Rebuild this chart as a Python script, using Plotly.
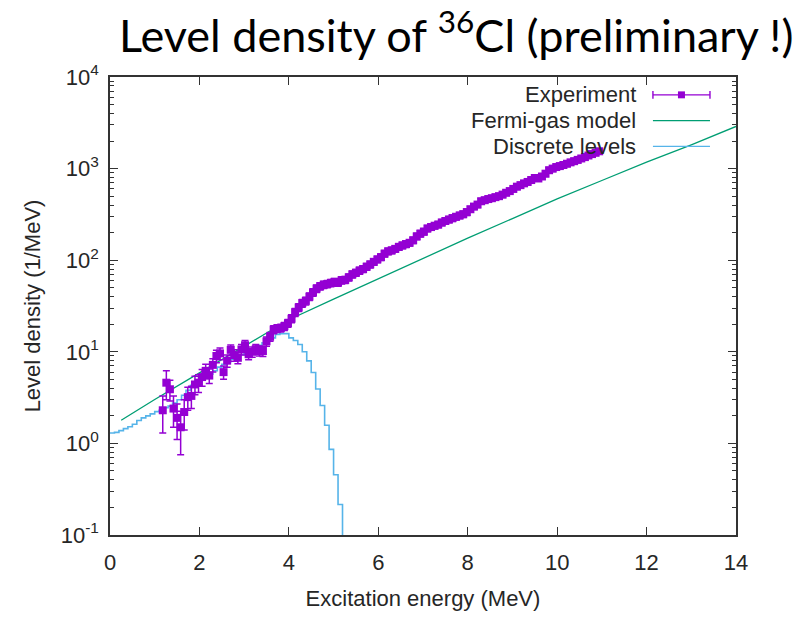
import plotly.graph_objects as go

# ---------------- data ----------------
exp_E = [1.18,1.26,1.34,1.42,1.50,1.58,1.66,1.74,1.82,1.90,
         1.98,2.06,2.14,2.22,2.30,2.38,2.46,2.54,2.62,2.70,
         2.78,2.86,2.94,3.02,3.10,3.18,3.26,3.34,3.42,3.50,
         3.58,3.66,3.74,3.82,3.90,3.98,
         4.06,4.14,4.22,4.30,4.38,4.46,4.54,4.62,4.70,4.78,
         4.86,4.94,5.02,5.10,5.18,5.26,5.34,5.42,5.50,5.58,
         5.66,5.74,5.82,5.90,5.98,
         6.06,6.14,6.22,6.30,6.38,6.46,6.54,6.62,6.70,6.78,
         6.86,6.94,7.02,7.10,7.18,7.26,7.34,7.42,7.50,7.58,
         7.66,7.74,7.82,7.90,7.98,
         8.06,8.14,8.22,8.30,8.38,8.46,8.54,8.62,8.70,8.78,
         8.86,8.94,9.02,9.10,9.18,9.26,9.34,9.42,9.50,9.58,
         9.66,9.74,9.82,9.90,9.98,
         10.06,10.14,10.22,10.30,10.38,10.46,10.54,10.62,10.70,10.78,
         10.86,10.94]
exp_rho = [2.3,4.6,3.9,2.4,1.9,1.5,2.2,3.2,3.3,4.4,
           4.6,5.3,6.2,5.5,7.2,9.0,9.6,6.0,8.0,10.5,
           9.2,8.6,10.6,11.8,9.4,10.0,10.7,10.3,10.2,13.0,
           14.6,17.5,18.0,18.2,19.0,20.5,
           23.0,27.0,30.5,34.0,36.0,40.0,44.5,49.0,52.0,54.0,
           55.0,56.5,58.0,57.0,60.5,61.0,65.0,70.0,73.0,77.0,
           80.0,85.0,90.0,96.0,102,
           108,118,125,128,133,140,145,150,155,165,
           182,195,205,222,230,238,245,258,268,278,
           288,298,308,318,335,
           360,385,405,440,452,465,475,488,500,520,
           545,568,600,635,660,690,715,750,790,780,
           820,880,960,1000,1040,
           1065,1095,1130,1170,1205,1245,1290,1335,1390,1440,
           1490,1545]
exp_err = [1.0,1.6,1.0,0.9,0.8,0.75,0.8,0.9,0.9,1.0,
           1.0,1.1,1.1,1.0,1.2,1.4,1.4,1.0,1.2,1.4,
           1.3,1.2,1.4,1.5,1.2,1.3,1.3,1.3,1.3,1.5,
           1.6,1.8,1.8,1.8,1.9,2.0,
           2.3,2.7,3.0,3.3,3.5,3.8,4.2,4.6,4.8,5.0,
           5.0,5.1,5.2,5.1,5.4,5.4,5.7,6.1,6.3,6.6,
           6.8,7.2,7.6,8.0,8.5,
           8.8,9.6,10.1,10.3,10.7,11.2,11.6,12.0,12.4,13.2,
           14.5,15.5,16.3,17.6,18.2,18.8,19.4,20.4,21.2,22.0,
           22.8,23.6,24.4,25.2,26.5,
           25,27,28.5,31,31.5,32.5,33,34,35,36,
           38,39.5,42,44,46,48,50,52.5,55,54.5,
           57,61,66,69,72,
           73,75,77,80,82,85,88,91,94,97,
           100,104]

fg_E = [0.25, 1, 2, 3, 4, 5, 6, 7, 8, 9, 10, 11, 12, 13, 14]
fg_rho = [1.79, 3.02, 5.89, 11.5, 22.4, 37.6, 63.1, 105, 174, 285, 468, 741, 1175, 1820, 2884]

disc_E = [0.0,0.1,0.2,0.3,0.4,0.5,0.6,0.7,0.8,0.9,
          1.0,1.1,1.2,1.3,1.4,1.5,1.6,1.7,1.8,1.9,
          2.0,2.1,2.2,2.3,2.4,2.5,2.6,2.7,2.8,2.9,
          3.0,3.1,3.2,3.3,3.4,3.5,3.6,3.7,3.8,3.9,
          4.0,4.1,4.2,4.3,4.4,4.5,4.6,4.7,4.8,4.9,
          5.0,5.1,5.2]
disc_rho = [1.30,1.32,1.38,1.45,1.52,1.62,1.78,1.90,2.00,2.10,
            2.22,2.30,2.45,2.55,2.75,3.0,3.35,3.8,4.3,4.6,
            5.0,5.3,5.7,6.2,6.8,7.3,7.8,8.3,8.9,9.3,
            10.0,10.6,11.2,11.8,12.5,13.3,14.2,15.5,15.8,15.8,
            14.2,13.3,12.0,10.0,7.96,5.95,3.93,2.59,1.58,0.86,
            0.454,0.215,0.001]

y_tickvals = [0.1, 1, 10, 100, 1000, 10000]
y_ticktext = ["10<sup>-1</sup>", "10<sup>0</sup>", "10<sup>1</sup>",
              "10<sup>2</sup>", "10<sup>3</sup>", "10<sup>4</sup>"]
legend_labels = ["Experiment", "Fermi-gas model", "Discrete levels"]

C_EXP = "#9400D3"
C_FG = "#009E73"
C_DL = "#56B4E9"
AX = "#333333"
TXT = "#262626"
FONT = "Arial"
FS = 22

fig = go.Figure()
fig.add_trace(go.Scatter(x=disc_E, y=disc_rho, mode="lines", line_shape="hv",
                         line=dict(color=C_DL, width=1.6), name=legend_labels[2]))
fig.add_trace(go.Scatter(x=fg_E, y=fg_rho, mode="lines",
                         line=dict(color=C_FG, width=1.3), name=legend_labels[1]))
fig.add_trace(go.Scatter(x=exp_E, y=exp_rho, mode="markers",
                         marker=dict(symbol="square", size=8, color=C_EXP),
                         error_y=dict(type="data", array=exp_err, color=C_EXP,
                                      thickness=1.5, width=3.5),
                         name=legend_labels[0]))

minor_vals = [m * 10.0 ** k for k in range(-1, 4) for m in range(2, 10)]

fig.update_layout(
    width=805, height=619,
    margin=dict(l=110, r=69, t=77, b=80),
    paper_bgcolor="white", plot_bgcolor="white",
    showlegend=False,
    font=dict(family=FONT, size=FS, color=TXT),
    xaxis=dict(range=[0, 14], dtick=2, tick0=0, ticks="inside", ticklen=8,
               tickwidth=1.2, tickcolor=AX, showline=True, linecolor=AX,
               linewidth=1.5, mirror="ticks", showgrid=False, zeroline=False,
               ticklabelstandoff=7,
               tickfont=dict(family=FONT, size=FS, color=TXT),
               title=dict(text="Excitation energy (MeV)", standoff=16,
                          font=dict(family=FONT, size=FS, color=TXT))),
    yaxis=dict(type="log", range=[-1, 4], tickmode="array",
               tickvals=y_tickvals, ticktext=y_ticktext,
               ticks="inside", ticklen=8, tickwidth=1.2, tickcolor=AX,
               minor=dict(tickmode="array", tickvals=minor_vals, ticks="inside",
                          ticklen=4, tickcolor=AX, showgrid=False),
               showline=True, linecolor=AX, linewidth=1.5, mirror="ticks",
               showgrid=False, zeroline=False, ticklabelstandoff=5,
               tickfont=dict(family=FONT, size=FS, color=TXT),
               title=dict(text="Level density (1/MeV)", standoff=14,
                          font=dict(family=FONT, size=FS, color=TXT))),
)

# title
fig.add_annotation(text="Level density of <sup>36</sup>Cl (preliminary !)",
                   xref="paper", yref="paper", x=1.094, y=1.099,
                   xanchor="right", yanchor="middle", showarrow=False,
                   font=dict(family="Lato", size=45, color="black"))

# legend (gnuplot style: text right-aligned, sample to the right)
W, H = 625.5, 462.0
def px(xp):
    return (xp - 110.5) / W
def py(yp):
    return (539.0 - yp) / H

rows = [95, 121, 147]
colors = [C_EXP, C_FG, C_DL]
for lab, ry, col in zip(legend_labels, rows, colors):
    fig.add_annotation(text=lab, xref="paper", yref="paper", x=px(638), y=py(ry),
                       xanchor="right", yanchor="middle", showarrow=False,
                       font=dict(family=FONT, size=FS, color=TXT))
    fig.add_shape(type="line", xref="paper", yref="paper",
                  x0=px(653), x1=px(710), y0=py(ry), y1=py(ry),
                  line=dict(color=col, width=1.4))
# experiment legend caps and square
for cx in (653, 710):
    fig.add_shape(type="line", xref="paper", yref="paper", x0=px(cx), x1=px(cx),
                  y0=py(rows[0] - 4), y1=py(rows[0] + 4), line=dict(color=C_EXP, width=1.4))
fig.add_shape(type="rect", xref="paper", yref="paper",
              x0=px(681.5 - 3.5), x1=px(681.5 + 3.5), y0=py(rows[0] + 3.5), y1=py(rows[0] - 3.5),
              fillcolor=C_EXP, line=dict(color=C_EXP, width=0))

fig.write_html("out.html")
